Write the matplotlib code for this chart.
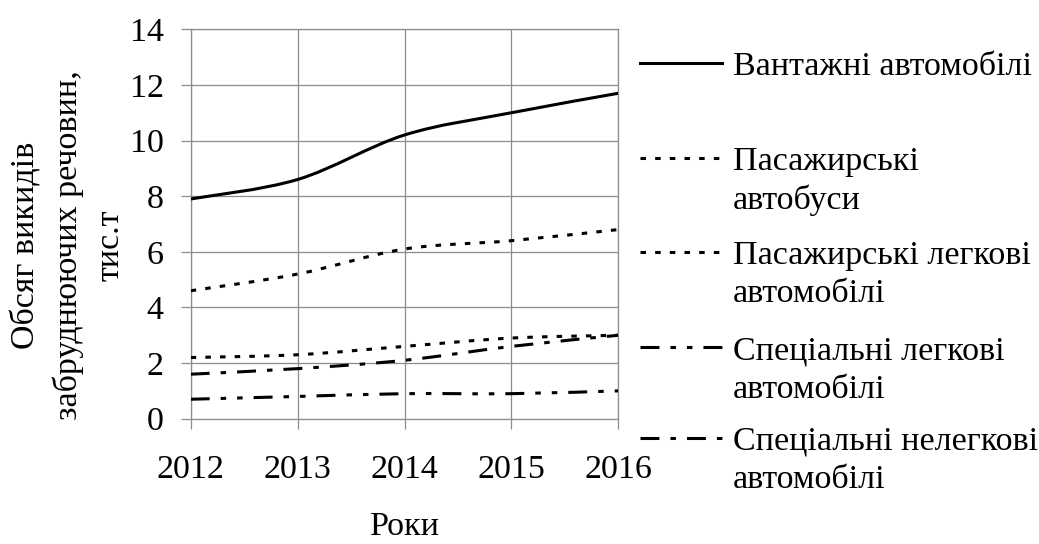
import numpy as np
import matplotlib
matplotlib.use("Agg")
from matplotlib import pyplot as plt
from matplotlib.path import Path
from matplotlib.patches import PathPatch
from matplotlib.lines import Line2D

plt.rcParams["font.family"] = ["Liberation Serif", "DejaVu Serif"]

years = [2012, 2013, 2014, 2015, 2016]
trucks = [7.9, 8.6, 10.2, 11.0, 11.7]
buses = [4.6, 5.2, 6.1, 6.4, 6.8]
cars = [2.2, 2.3, 2.6, 2.9, 3.0]
special_light = [0.7, 0.8, 0.9, 0.9, 1.0]
special_heavy = [1.6, 1.8, 2.1, 2.6, 3.0]

labels = [
    "Вантажні автомобілі",
    "Пасажирські\nавтобуси",
    "Пасажирські легкові\nавтомобілі",
    "Спеціальні легкові\nавтомобілі",
    "Спеціальні нелегкові\nавтомобілі",
]
series = [trucks, buses, cars, special_light, special_heavy]

dot = (1.8, 3.0)
dash_dot = (6.2, 3.6, 1.8, 3.6)
dash_dot_dot = (6.2, 3.6, 1.8, 3.6, 1.8, 3.6)
styles = ["-", (0, dot), (0, dot), (0, dash_dot_dot), (0, dash_dot)]

GRID = "#8c8c8c"
LW = 2.2
FS = 24.5


def smooth_path(xs, ys):
    # excel-like smoothed line: catmull-rom segments as cubic beziers
    pts = np.column_stack([xs, ys]).astype(float)
    n = len(pts)
    verts = [pts[0]]
    codes = [Path.MOVETO]
    for i in range(n - 1):
        p0 = pts[max(i - 1, 0)]
        p1 = pts[i]
        p2 = pts[i + 1]
        p3 = pts[min(i + 2, n - 1)]
        verts += [p1 + (p2 - p0) / 6, p2 - (p3 - p1) / 6, p2]
        codes += [Path.CURVE4] * 3
    return Path(verts, codes)


W, H = 1039, 544
fig = plt.figure(figsize=(W / 100, H / 100), dpi=100)
ax = fig.add_axes([190.7 / W, 1 - 418.7 / H, (618.3 - 190.7) / W, (418.7 - 29.3) / H])

for vals, ls in zip(series, styles):
    patch = PathPatch(smooth_path(years, vals), facecolor="none", edgecolor="black",
                      lw=LW, linestyle=ls, capstyle="butt", zorder=3)
    ax.add_patch(patch)

ax.set_xlim(2012, 2016)
ax.set_ylim(0, 14)
ax.set_xticks(years)
ax.set_xticklabels([str(y) for y in years])
ax.set_yticks(range(0, 15, 2))
ax.grid(True, color=GRID, lw=0.9)
ax.set_axisbelow(True)
for s in ax.spines.values():
    s.set_color(GRID)
    s.set_linewidth(0.9)
ax.tick_params(axis="both", length=7.5, width=0.9, color=GRID, labelsize=FS)
ax.tick_params(axis="y", pad=12)
ax.tick_params(axis="x", pad=18)
ax.set_xlabel("Роки", fontsize=FS, labelpad=19)

fig.text(68 / W, 1 - 245 / H, "Обсяг викидів\nзабруднюючих речовин,\nтис.т",
         rotation=90, ha="center", va="center", multialignment="center",
         fontsize=FS, linespacing=1.45)

# legend drawn by hand: handle sits on the first line of each label
handle_y = [63, 158, 252, 347, 438]
for lab, ls, hy in zip(labels, styles, handle_y):
    fig.add_artist(Line2D([640 / W, 722 / W], [1 - hy / H, 1 - hy / H],
                          transform=fig.transFigure, color="black", lw=LW,
                          linestyle=ls, dash_capstyle="butt"))
    for k, line in enumerate(lab.split("\n")):
        fig.text(733 / W, 1 - (hy + 12 + 38.5 * k) / H, line, ha="left",
                 va="baseline", fontsize=FS)

fig.savefig("out.png", dpi=100)
